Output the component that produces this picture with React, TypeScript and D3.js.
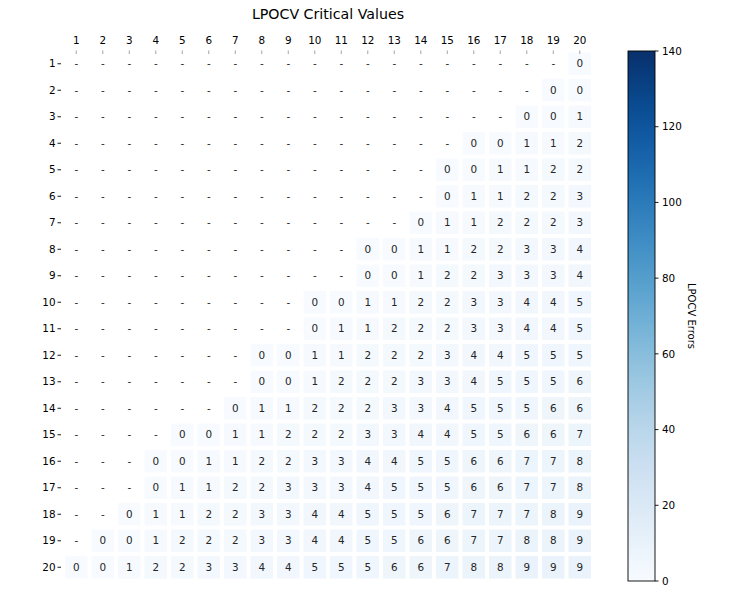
import React from "react";
import * as d3 from "d3";

const labels = d3.range(1, 21).map(String);
// Numeric values of each row (rows 1..20); they occupy the last columns, "-" elsewhere
const rowValues: number[][] = [
  [0],
  [0, 0],
  [0, 0, 1],
  [0, 0, 1, 1, 2],
  [0, 0, 1, 1, 2, 2],
  [0, 1, 1, 2, 2, 3],
  [0, 1, 1, 2, 2, 2, 3],
  [0, 0, 1, 1, 2, 2, 3, 3, 4],
  [0, 0, 1, 2, 2, 3, 3, 3, 4],
  [0, 0, 1, 1, 2, 2, 3, 3, 4, 4, 5],
  [0, 1, 1, 2, 2, 2, 3, 3, 4, 4, 5],
  [0, 0, 1, 1, 2, 2, 2, 3, 4, 4, 5, 5, 5],
  [0, 0, 1, 2, 2, 2, 3, 3, 4, 5, 5, 5, 6],
  [0, 1, 1, 2, 2, 2, 3, 3, 4, 5, 5, 5, 6, 6],
  [0, 0, 1, 1, 2, 2, 2, 3, 3, 4, 4, 5, 5, 6, 6, 7],
  [0, 0, 1, 1, 2, 2, 3, 3, 4, 4, 5, 5, 6, 6, 7, 7, 8],
  [0, 1, 1, 2, 2, 3, 3, 3, 4, 5, 5, 5, 6, 6, 7, 7, 8],
  [0, 1, 1, 2, 2, 3, 3, 4, 4, 5, 5, 5, 6, 7, 7, 7, 8, 9],
  [0, 0, 1, 2, 2, 2, 3, 3, 4, 4, 5, 5, 6, 6, 7, 7, 8, 8, 9],
  [0, 0, 1, 2, 2, 3, 3, 4, 4, 5, 5, 5, 6, 6, 7, 8, 8, 9, 9, 9],
];
const colorDomain = [0, 140];
const colorTicks = [0, 20, 40, 60, 80, 100, 120, 140];

const FONT = "'DejaVu Sans', sans-serif";

export default function App() {
  const W = 747, H = 598;
  const gx0 = 63, gx1 = 593, gy0 = 50.5, gy1 = 580.5;
  const x = d3.scaleBand<string>().domain(labels).range([gx0, gx1]);
  const y = d3.scaleBand<string>().domain(labels).range([gy0, gy1]);
  const color = (v: number) => d3.interpolateBlues((v - colorDomain[0]) / (colorDomain[1] - colorDomain[0]));
  const cbx0 = 628, cbx1 = 655, cby0 = 51, cby1 = 581;
  const cy = d3.scaleLinear().domain(colorDomain).range([cby1, cby0]);
  const inset = 2;

  const cells: { r: string; c: string; v: number | null }[] = [];
  rowValues.forEach((vals, ri) => {
    const start = labels.length - vals.length;
    labels.forEach((c, ci) => {
      cells.push({ r: labels[ri], c, v: ci >= start ? vals[ci - start] : null });
    });
  });

  const stops = d3.range(0, 1.0001, 0.05);

  return (
    <svg width={W} height={H} style={{ position: "absolute", left: 0, top: 0, background: "#fff" }} fontFamily={FONT}>
      <defs>
        <linearGradient id="cb" x1="0" y1="1" x2="0" y2="0">
          {stops.map((t) => (
            <stop key={t} offset={t} stopColor={d3.interpolateBlues(t)} />
          ))}
        </linearGradient>
      </defs>
      <text x={(gx0 + gx1) / 2} y={19} textAnchor="middle" fontSize={14.2} fill="#000">
        LPOCV Critical Values
      </text>
      {cells.map((d) => (
        <g key={d.r + "-" + d.c}>
          {d.v !== null && (
            <rect
              x={x(d.c)! + inset}
              y={y(d.r)! + inset}
              width={x.bandwidth() - 2 * inset}
              height={y.bandwidth() - 2 * inset}
              fill={color(d.v)}
            />
          )}
          <text
            x={x(d.c)! + x.bandwidth() / 2}
            y={y(d.r)! + y.bandwidth() / 2}
            dy="0.36em"
            textAnchor="middle"
            fontSize={10.4}
            fill="#262626"
          >
            {d.v === null ? "-" : d.v}
          </text>
        </g>
      ))}
      {labels.map((l) => (
        <g key={"xt" + l}>
          <line x1={x(l)! + x.bandwidth() / 2} x2={x(l)! + x.bandwidth() / 2} y1={50.5} y2={54} stroke="#999" strokeWidth={0.9} />
          <text x={x(l)! + x.bandwidth() / 2} y={44} textAnchor="middle" fontSize={10.4} fill="#000">
            {l}
          </text>
        </g>
      ))}
      {labels.map((l) => (
        <g key={"yt" + l}>
          <line x1={57.5} x2={61} y1={y(l)! + y.bandwidth() / 2} y2={y(l)! + y.bandwidth() / 2} stroke="#000" strokeWidth={0.9} />
          <text x={55.5} y={y(l)! + y.bandwidth() / 2} dy="0.36em" textAnchor="end" fontSize={10.4} fill="#000">
            {l}
          </text>
        </g>
      ))}
      <rect x={cbx0} y={cby0} width={cbx1 - cbx0} height={cby1 - cby0} fill="url(#cb)" stroke="#000" strokeWidth={0.9} />
      {colorTicks.map((t) => (
        <g key={"ct" + t}>
          <line x1={cbx1} x2={cbx1 + 3.5} y1={cy(t)} y2={cy(t)} stroke="#000" strokeWidth={0.9} />
          <text x={cbx1 + 7} y={cy(t)} dy="0.36em" fontSize={10.4} fill="#000">
            {t}
          </text>
        </g>
      ))}
      <text
        transform={`translate(${687.5},${(cby0 + cby1) / 2}) rotate(90)`}
        textAnchor="middle"
        fontSize={10}
        fill="#000"
      >
        LPOCV Errors
      </text>
    </svg>
  );
}
